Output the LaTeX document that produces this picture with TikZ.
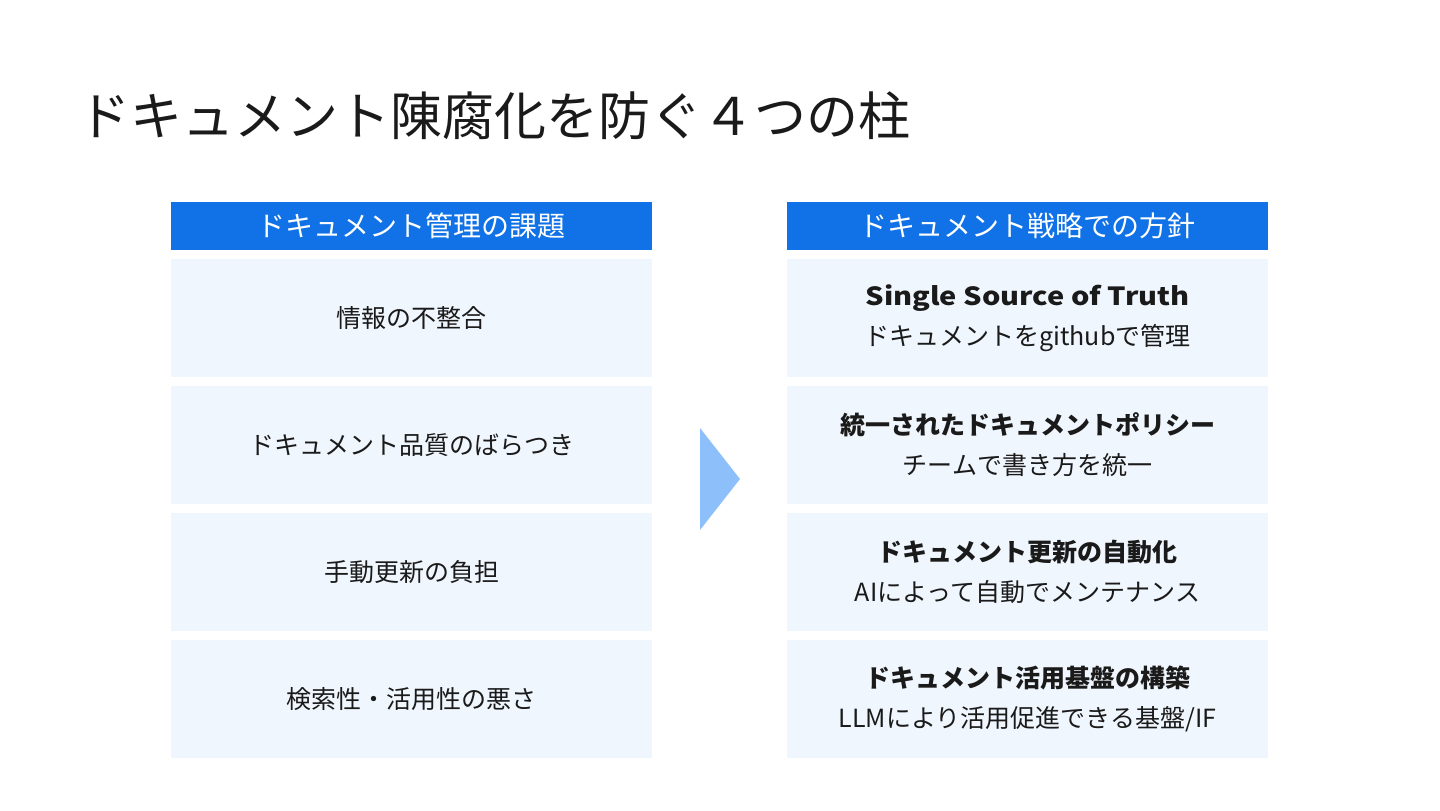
\documentclass[tikz,border=0pt]{standalone}
\usepackage{fontspec}
\setmainfont{Noto Sans CJK JP}
\newfontfamily\widelatin[FakeStretch=1.16]{Noto Sans CJK JP}
\usetikzlibrary{positioning}
\definecolor{headblue}{HTML}{1072E6}
\definecolor{rowfill}{HTML}{F0F6FD}
\definecolor{arrowblue}{HTML}{8DC0FA}
\definecolor{inkgray}{HTML}{1A1A1A}

\begin{document}
\begin{tikzpicture}[
    x=0.5pt,y=-0.5pt,
    node distance=4.5pt,
    head/.style={fill=headblue,text=white,inner sep=0pt,outer sep=0pt,minimum width=240.5pt,minimum height=24pt,font=\fontsize{14}{16}\selectfont},
    row/.style={fill=rowfill,text=inkgray,align=center,inner sep=0pt,outer sep=0pt,minimum width=240.5pt,minimum height=59pt,font=\fontsize{12.5}{20}\selectfont}
]
\useasboundingbox (0,0) rectangle (1440,810);
\node[anchor=west,inner sep=0pt,text=inkgray,font=\fontsize{26}{30}\selectfont] (title) at (78,116) {ドキュメント陳腐化を防ぐ４つの柱};
% left column: issues
\node[head] (lhead) at (411.5,226) {ドキュメント管理の課題};
\node[row,below=of lhead] (issue1) {情報の不整合};
\node[row,below=of issue1] (issue2) {ドキュメント品質のばらつき};
\node[row,below=of issue2] (issue3) {手動更新の負担};
\node[row,below=of issue3] (issue4) {検索性・活用性の悪さ};
% right column: policies
\node[head] (rhead) at (1027.5,226) {ドキュメント戦略での方針};
\node[row,below=of rhead] (pol1) {{\widelatin\bfseries Single Source of Truth}\\ドキュメントをgithubで管理};
\node[row,below=of pol1] (pol2) {\textbf{統一されたドキュメントポリシー}\\チームで書き方を統一};
\node[row,below=of pol2] (pol3) {\textbf{ドキュメント更新の自動化}\\AIによって自動でメンテナンス};
\node[row,below=of pol3] (pol4) {\textbf{ドキュメント活用基盤の構築}\\LLMにより活用促進できる基盤/IF};
% arrow between the columns
\fill[arrowblue] (700,428) -- (740,479) -- (700,530) -- cycle;
\end{tikzpicture}
\end{document}
